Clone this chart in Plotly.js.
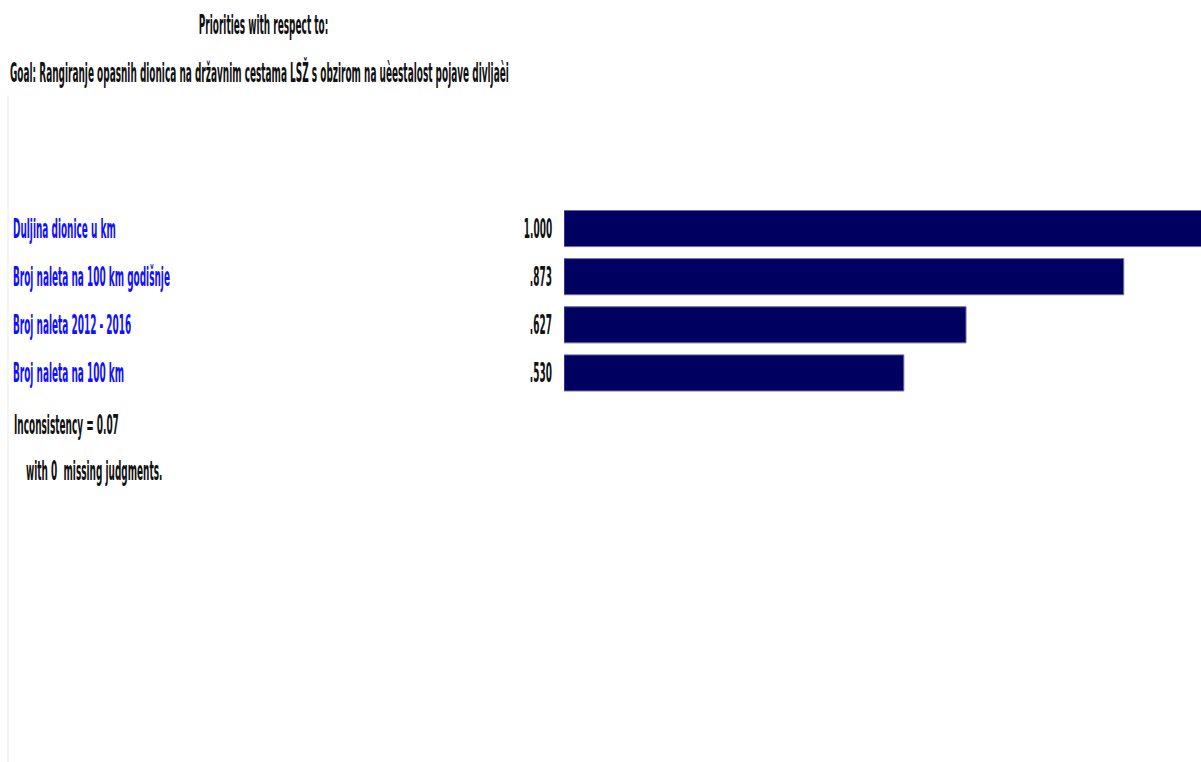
<!DOCTYPE html>
<html>
<head>
<meta charset="utf-8">
<script src="https://cdn.plot.ly/plotly-3.0.1.min.js"></script>
<style>
html,body{margin:0;padding:0;background:#ffffff;}
#chart{width:1201px;height:762px;}
</style>
</head>
<body>
<div id="chart"></div>
<script>
var categories = ["Duljina dionice u km", "Broj naleta na 100 km godišnje", "Broj naleta 2012 - 2016", "Broj naleta na 100 km"];
var priorities = [1.000, 0.873, 0.627, 0.530];
var valueLabels = ["1.000", ".873", ".627", ".530"];
var headerText = "Priorities with respect to:";
var goalText = "Goal: Rangiranje opasnih dionica na državnim cestama LSŽ s obzirom na uèestalost pojave divljaèi";
var footerLines = ["Inconsistency = 0.07", "with 0  missing judgments."];

var FONT = "'DejaVu Sans', sans-serif";
var FS = 27;
var W = 1201, H = 762;

var trace = {
  type: "bar",
  orientation: "h",
  y: categories,
  x: priorities,
  marker: {color: "#000060", line: {color: "#6a6aa0", width: 1}},
  width: 0.75,
  hoverinfo: "skip",
  cliponaxis: true
};

function px(x){ return x / W; }
function py(y){ return 1 - y / H; }
function f(color){ return {family: FONT, size: FS, color: color, weight: "bold"}; }

var annotations = [];
categories.forEach(function(c, i){
  annotations.push({xref: "paper", yref: "y", x: px(12), y: c, text: c, showarrow: false,
    xanchor: "left", yanchor: "middle", font: f("#1010ff")});
  annotations.push({xref: "paper", yref: "y", x: px(553), y: c, text: valueLabels[i], showarrow: false,
    xanchor: "right", yanchor: "middle", font: f("#111111")});
});
annotations.push({xref: "paper", yref: "paper", x: px(263), y: py(25), text: headerText, showarrow: false,
  xanchor: "center", yanchor: "middle", font: f("#111111")});
annotations.push({xref: "paper", yref: "paper", x: px(9), y: py(72), text: goalText, showarrow: false,
  xanchor: "left", yanchor: "middle", font: f("#111111")});
annotations.push({xref: "paper", yref: "paper", x: px(13), y: py(424), text: footerLines[0], showarrow: false,
  xanchor: "left", yanchor: "middle", font: f("#111111")});
annotations.push({xref: "paper", yref: "paper", x: px(25), y: py(470), text: footerLines[1], showarrow: false,
  xanchor: "left", yanchor: "middle", font: f("#111111")});

var layout = {
  width: W, height: H,
  margin: {l: 0, r: 0, t: 0, b: 0},
  paper_bgcolor: "#ffffff", plot_bgcolor: "#ffffff",
  showlegend: false,
  xaxis: {domain: [564/W, 1], range: [0, 0.9935], visible: false, fixedrange: true},
  yaxis: {domain: [1 - 397/H, 1 - 204.5/H], type: "category", autorange: false, range: [3.5, -0.5], visible: false, fixedrange: true},
  annotations: annotations,
  shapes: [{type: "line", xref: "paper", yref: "paper", x0: px(8), x1: px(8), y0: 0, y1: py(95),
    line: {color: "#f4f4f4", width: 2}}]
};

Plotly.newPlot("chart", [trace], layout, {displayModeBar: false, staticPlot: true}).then(function(gd){
  // condense the text horizontally like the reference's narrow lettering
  var groups = gd.querySelectorAll("g.annotation");
  var ref = gd.querySelector('g.annotation[data-index="2"] text');
  var s = ref ? 157 / ref.getBBox().width : 0.5;
  groups.forEach(function(g){
    var idx = +g.getAttribute("data-index");
    var a = layout.annotations[idx];
    var b = g.getBBox();
    var ax = a.xanchor === "left" ? b.x : (a.xanchor === "right" ? b.x + b.width : b.x + b.width / 2);
    g.setAttribute("transform", "translate(" + ax + ",0) scale(" + s + ",1) translate(" + (-ax) + ",0)");
  });
});
</script>
</body>
</html>
